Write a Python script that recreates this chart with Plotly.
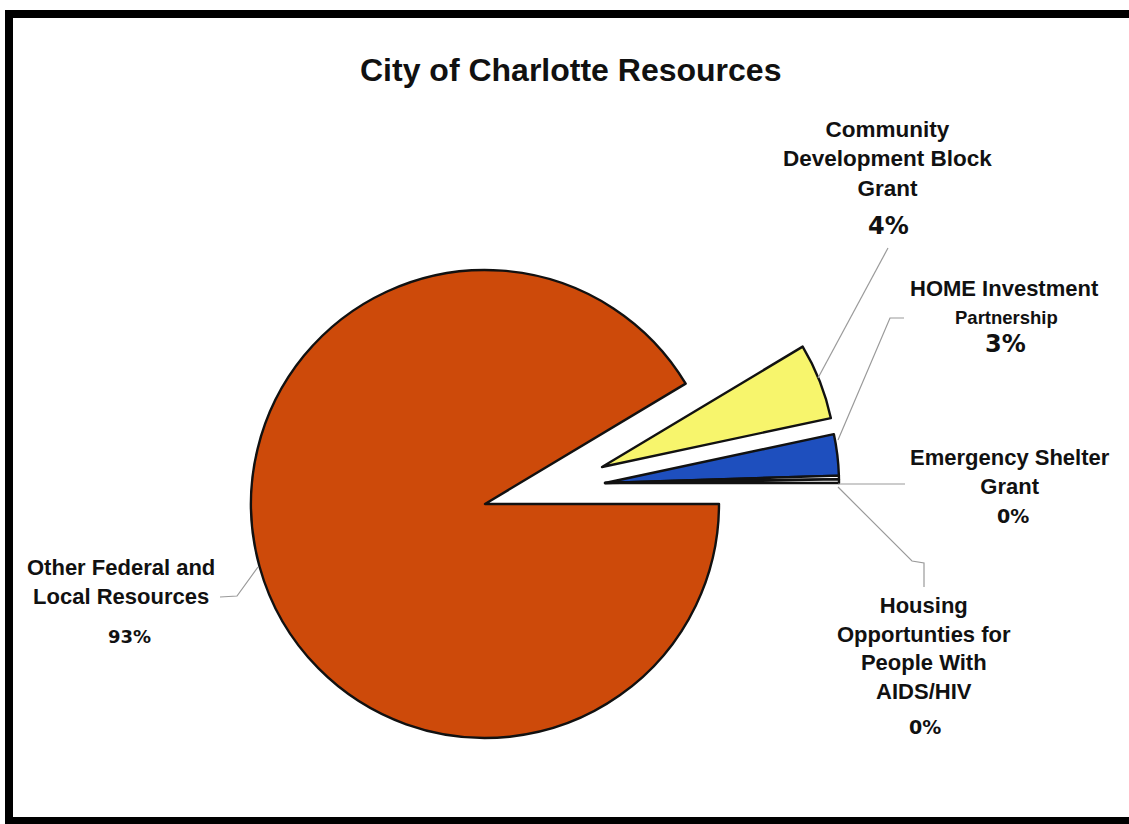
import plotly.graph_objects as go

W, H = 1129, 824

# Data (angles; label texts as printed)
categories = ["Other Federal and Local Resources", "Community Development Block Grant",
              "HOME Investment Partnership", "Emergency Shelter Grant",
              "Housing Opportunties for People With AIDS/HIV"]
values = [91.4, 5.25, 2.85, 0.25, 0.25]
pct_labels = ["93%", "4%", "3%", "0%", "0%"]
colors = ["#CD4A0A", "#F7F56C", "#1E4FBE", "#FFFFFF", "#FFFFFF"]

R = 234  # pie radius in px


def px(x):
    return x / W


def py(y):
    return 1 - y / H


def dom(cx, cy):
    return dict(x=[(cx - R) / W, (cx + R) / W], y=[1 - (cy + R) / H, 1 - (cy - R) / H])


def pie(visible_idx, cx, cy):
    cols = [c if i in visible_idx else "rgba(0,0,0,0)" for i, c in enumerate(colors)]
    lw = [2.4 if i in visible_idx else 0 for i in range(len(values))]
    return go.Pie(labels=categories, values=values, sort=False, direction="clockwise",
                  rotation=90, textinfo="none", hoverinfo="skip", showlegend=False,
                  marker=dict(colors=cols, line=dict(color="#111111", width=lw)),
                  domain=dom(cx, cy))


fig = go.Figure()
fig.add_trace(pie([0], 485, 504))
fig.add_trace(pie([1], 602, 467))
fig.add_trace(pie([2, 3, 4], 605, 483))

LAB = dict(family="Liberation Sans, Arial, sans-serif", size=22, color="#111111")
PCT = "DejaVu Sans, Verdana, sans-serif"

ann = []


def add(text, x, y, size=22, fam=None):
    f = dict(LAB)
    f["size"] = size
    if fam:
        f["family"] = fam
    ann.append(dict(text="<b>" + text + "</b>", x=px(x), y=py(y), xref="paper", yref="paper",
                    showarrow=False, xanchor="center", yanchor="middle", font=f))


add("City of Charlotte Resources", 570, 70, 32)
add("Community<br>Development Block<br>Grant", 887, 159, 22.5)
add(pct_labels[1], 888, 226, 24, PCT)
add("HOME Investment", 1004, 288)
add("Partnership", 1006, 318, 18.5)
add(pct_labels[2], 1005, 344, 24, PCT)
add("Emergency Shelter<br>Grant", 1010, 472)
add(pct_labels[3], 1013, 516, 19, PCT)
add("Housing<br>Opportunties for<br>People With<br>AIDS/HIV", 924, 648)
add(pct_labels[4], 925, 727, 19, PCT)
add("Other Federal and<br>Local Resources", 121, 582)
add(pct_labels[0], 129, 636, 18, PCT)


def path(points):
    d = "M " + " L ".join(f"{px(x)},{py(y)}" for x, y in points)
    return dict(type="path", path=d, xref="paper", yref="paper",
                line=dict(color="#9a9a9a", width=1.2))


shapes = [
    path([(888, 248), (818, 378)]),
    path([(904, 318), (890, 318), (838, 440)]),
    path([(838, 484), (905, 484)]),
    path([(838, 487), (912, 561), (924, 563), (924, 587)]),
    path([(258, 567), (237, 596), (220, 597)]),
    dict(type="rect", xref="paper", yref="paper", x0=px(9), x1=px(1140), y0=py(821), y1=py(14),
         line=dict(color="#000000", width=8), fillcolor="rgba(0,0,0,0)"),
]

fig.update_layout(width=W, height=H, margin=dict(l=0, r=0, t=0, b=0),
                  paper_bgcolor="white", plot_bgcolor="white",
                  annotations=ann, shapes=shapes)

fig.write_html("out.html")
